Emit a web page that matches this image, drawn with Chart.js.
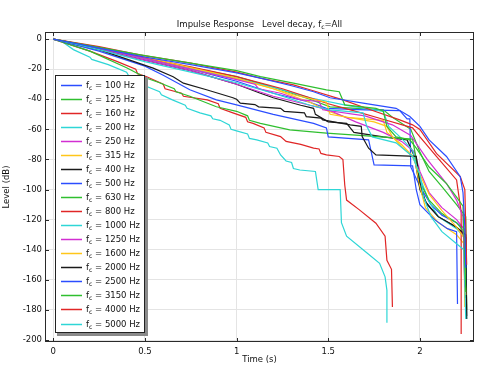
<!DOCTYPE html>
<html>
<head>
<meta charset="utf-8">
<script src="https://cdn.jsdelivr.net/npm/chart.js@4.4.0/dist/chart.umd.min.js"></script>
<style>
html, body { margin: 0; padding: 0; background: #fff; }
</style>
</head>
<body>
<canvas id="c" width="479" height="366"></canvas>
<script>
// band centre frequencies and line colours (COMSOL colour cycle)
var freqs = [100, 125, 160, 200, 250, 315, 400, 500, 630, 800, 1000, 1250, 1600, 2000, 2500, 3150, 4000, 5000];
var cycle = ['#2b4dff', '#2fbf2f', '#e02626', '#2ed6d6', '#d22ed2', '#ffc61a', '#1a1a1a'];

var xTicks = [0, 0.5, 1, 1.5, 2];
var yTicks = [-200, -180, -160, -140, -120, -100, -80, -60, -40, -20, 0];

// level decay curves, [time (s), level (dB)]
var f100 = [[0,0],[0.25,-6],[0.5,-12],[0.75,-17],[1.0,-22.5],[1.13,-26],[1.3,-31],[1.42,-35],[1.51,-39],[1.69,-42.6],[1.87,-46],[1.945,-51.5],[2.0,-58],[2.05,-67],[2.145,-78],[2.22,-91.4],[2.235,-102],[2.245,-125],[2.25,-152]];
var f125 = [[0,0],[0.25,-5.5],[0.5,-11],[0.75,-16],[1.0,-21],[1.13,-24.9],[1.31,-29.3],[1.49,-33.7],[1.56,-35],[1.59,-43.7],[1.76,-46],[1.8,-48],[1.82,-58],[1.87,-65],[1.945,-67],[1.98,-72.5],[2.05,-85],[2.145,-96],[2.2,-105],[2.235,-111],[2.25,-168]];
var f160 = [[0,0],[0.25,-5],[0.47,-10.5],[0.75,-16],[1.0,-22],[1.13,-26],[1.31,-30.4],[1.4,-33.7],[1.58,-40.4],[1.73,-47],[1.89,-53.7],[1.96,-57],[2.0,-60],[2.09,-76],[2.22,-91.4],[2.245,-100],[2.255,-150]];
var f200 = [[0,0],[0.25,-7],[0.5,-15],[0.75,-22],[1.0,-29],[1.2,-36],[1.4,-44],[1.51,-47],[1.69,-49],[1.71,-58],[1.74,-65],[1.87,-69],[1.96,-78],[2.0,-90],[2.02,-105],[2.06,-118],[2.12,-128],[2.2,-136],[2.24,-140],[2.25,-186]];
var f250 = [[0,0],[0.25,-6],[0.5,-13],[0.75,-20],[1.0,-27],[1.1,-30],[1.12,-33],[1.24,-36],[1.35,-40.4],[1.45,-41.5],[1.47,-47],[1.7,-51],[1.85,-57],[1.95,-64],[2.04,-80],[2.145,-96],[2.2,-107],[2.235,-118],[2.245,-165]];
var f315 = [[0,0],[0.25,-5.5],[0.5,-12],[0.75,-19],[1.0,-26],[1.2,-33],[1.31,-37],[1.49,-42],[1.51,-50],[1.75,-55],[1.82,-58],[1.85,-65],[1.9,-71.4],[1.96,-78],[2.0,-90],[2.05,-103],[2.12,-114],[2.2,-125],[2.24,-132],[2.25,-170]];
var f400 = [[0,0],[0.25,-7],[0.545,-19.3],[0.654,-25],[0.71,-29.3],[0.836,-33.7],[0.98,-39],[1.0,-40],[1.02,-42.6],[1.1,-43.5],[1.12,-45],[1.24,-46],[1.26,-48],[1.37,-49],[1.38,-51.5],[1.46,-52.5],[1.47,-53.7],[1.62,-57],[1.68,-58],[1.685,-64.8],[1.72,-72.5],[1.76,-77],[1.98,-78],[2.0,-95],[2.03,-108],[2.1,-118],[2.2,-125],[2.25,-130],[2.255,-186]];
var f500 = [[0,0],[0.25,-8],[0.5,-18],[0.6,-24],[0.745,-33.7],[0.89,-40.4],[1.0,-43.7],[1.2,-50],[1.42,-56],[1.49,-59],[1.5,-65],[1.72,-67],[1.75,-83.6],[1.96,-84.3],[1.98,-100],[2.0,-110],[2.08,-120],[2.15,-126],[2.2,-128],[2.205,-176]];
var f630 = [[0,0],[0.2,-8],[0.4,-19],[0.51,-26],[0.58,-29],[0.66,-33],[0.67,-35],[0.745,-38],[0.89,-45],[1.0,-48],[1.06,-51],[1.07,-54],[1.13,-56],[1.29,-60.3],[1.49,-62.5],[1.67,-64],[1.96,-66.5],[1.98,-80],[2.0,-95],[2.05,-107],[2.12,-116],[2.2,-122],[2.24,-128],[2.25,-172]];
var f800 = [[0,0],[0.25,-6],[0.5,-12.5],[0.75,-18.5],[1.0,-25],[1.25,-33],[1.5,-43],[1.65,-48],[1.78,-52.6],[1.96,-59],[2.0,-65],[2.09,-78],[2.2,-93.6],[2.225,-115],[2.225,-196]];
var f1000 = [[0,0],[0.25,-6],[0.5,-13],[0.75,-20],[1.0,-26],[1.2,-32],[1.4,-39],[1.6,-44],[1.8,-48],[1.83,-58],[1.9,-66],[1.96,-74],[2.0,-92],[2.05,-108],[2.1,-118],[2.2,-126],[2.25,-133],[2.255,-186]];
var f1250 = [[0,0],[0.25,-7],[0.5,-14],[0.75,-21],[1.0,-30],[1.2,-38],[1.4,-44],[1.5,-47],[1.65,-55],[1.8,-62],[1.9,-68],[1.97,-75],[2.0,-88],[2.05,-102],[2.12,-112],[2.2,-120],[2.24,-126],[2.245,-160]];
var f1600 = [[0,0],[0.25,-6],[0.5,-13],[0.75,-20],[1.0,-26.5],[1.2,-33],[1.4,-42],[1.5,-48],[1.6,-52],[1.8,-54],[1.82,-62],[1.9,-70],[1.97,-79],[2.0,-98],[2.03,-112],[2.1,-122],[2.2,-130],[2.24,-136],[2.245,-178]];
var f2000 = [[0,0],[0.25,-6.5],[0.5,-14],[0.75,-21],[1.0,-30],[1.13,-36],[1.2,-39],[1.35,-44],[1.42,-46],[1.43,-50],[1.5,-55],[1.6,-56],[1.64,-62],[1.8,-65],[1.93,-67],[1.97,-78],[2.0,-100],[2.04,-110],[2.1,-118],[2.2,-125],[2.25,-132],[2.255,-184]];
var f2500 = [[0,0],[0.25,-6],[0.5,-13],[0.75,-20],[1.0,-28],[1.2,-36],[1.4,-42],[1.49,-46],[1.7,-47],[1.89,-47.5],[1.93,-53],[1.945,-53],[1.95,-85],[2.0,-98],[2.06,-110],[2.12,-117],[2.2,-122],[2.24,-126],[2.245,-172]];
var f3150 = [[0,0],[0.25,-6],[0.5,-13],[0.75,-19],[1.0,-25],[1.2,-32],[1.4,-40],[1.51,-45],[1.8,-47],[1.85,-52],[1.95,-60],[2.0,-75],[2.05,-88],[2.12,-98],[2.2,-110],[2.25,-118],[2.255,-180]];
var f4000 = [[0,0],[0.2,-8],[0.35,-15],[0.45,-20],[0.46,-23],[0.51,-25],[0.6,-30],[0.61,-33],[0.7,-36],[0.71,-38],[0.84,-40.4],[0.9,-43],[0.91,-46],[0.98,-49],[1.05,-52],[1.06,-55],[1.09,-56],[1.15,-59],[1.16,-62],[1.24,-64.8],[1.27,-68],[1.35,-70],[1.42,-72.5],[1.45,-73],[1.46,-76],[1.49,-77],[1.56,-78],[1.58,-80],[1.59,-97],[1.6,-107],[1.67,-113.5],[1.76,-122.4],[1.81,-131],[1.82,-147],[1.845,-153],[1.85,-178]];
var f5000 = [[0,0],[0.04,-1],[0.11,-7],[0.2,-12],[0.21,-13.5],[0.3,-17],[0.4,-22],[0.41,-24],[0.47,-27],[0.51,-31.5],[0.58,-35],[0.59,-37],[0.65,-40.4],[0.72,-44],[0.73,-46],[0.8,-49],[0.86,-51],[0.87,-53],[0.91,-54],[0.96,-57],[0.97,-60],[1.0,-61],[1.06,-63],[1.07,-66],[1.11,-67],[1.17,-69],[1.18,-71.4],[1.22,-72.5],[1.24,-77],[1.27,-81],[1.3,-82],[1.31,-86],[1.345,-87],[1.43,-88],[1.445,-100],[1.565,-100],[1.572,-122],[1.6,-131],[1.71,-142],[1.78,-149],[1.81,-158],[1.82,-167],[1.82,-188.5]];

var curves = [f100, f125, f160, f200, f250, f315, f400, f500, f630, f800, f1000, f1250, f1600, f2000, f2500, f3150, f4000, f5000];

var FONT = '"DejaVu Sans", sans-serif';
var fnt = { family: FONT, size: 8.5 };

// draws f with a subscript c, returns x after the text
function drawFc(ctx, x, y, rest, size) {
    ctx.font = size + 'px ' + FONT;
    ctx.fillText('f', x, y);
    x += ctx.measureText('f').width;
    ctx.font = (size * 0.72) + 'px ' + FONT;
    ctx.fillText('c', x, y + 2);
    x += ctx.measureText('c').width;
    ctx.font = size + 'px ' + FONT;
    ctx.fillText(rest, x, y);
    return x + ctx.measureText(rest).width;
}

var framePlugin = {
    id: 'frame',
    afterDatasetsDraw: function(chart) {
        var ctx = chart.ctx, a = chart.chartArea;
        var xs = chart.scales.x, ys = chart.scales.y;
        ctx.save();
        ctx.strokeStyle = '#2a2a2a';
        ctx.lineWidth = 1;
        ctx.strokeRect(a.left + 0.5, a.top + 0.5, a.right - a.left - 1, a.bottom - a.top - 1);
        ctx.beginPath();
        xTicks.forEach(function(v) {
            var px = Math.round(xs.getPixelForValue(v)) + 0.5;
            ctx.moveTo(px, a.bottom); ctx.lineTo(px, a.bottom - 4);
            ctx.moveTo(px, a.top); ctx.lineTo(px, a.top + 4);
        });
        yTicks.forEach(function(v) {
            var py = Math.round(ys.getPixelForValue(v)) + 0.5;
            ctx.moveTo(a.left, py); ctx.lineTo(a.left + 4, py);
            ctx.moveTo(a.right, py); ctx.lineTo(a.right - 4, py);
        });
        ctx.stroke();

        // legend box inside the plot
        var bx = 55, by = 75, bw = 90, bh = 258;
        ctx.fillStyle = '#8a8a8a';
        ctx.fillRect(bx + 2, by + 2, bw + 1, bh + 1);
        ctx.fillStyle = '#fff';
        ctx.fillRect(bx, by, bw, bh);
        ctx.strokeStyle = '#222';
        ctx.strokeRect(bx + 0.5, by + 0.5, bw - 1, bh - 1);
        ctx.textBaseline = 'alphabetic';
        ctx.textAlign = 'left';
        chart.data.datasets.forEach(function(ds, i) {
            var ly = 84.5 + i * 14.06;
            ctx.strokeStyle = ds.borderColor;
            ctx.lineWidth = 1.5;
            ctx.beginPath();
            ctx.moveTo(61, Math.round(ly) + 0.5);
            ctx.lineTo(82, Math.round(ly) + 0.5);
            ctx.stroke();
            ctx.fillStyle = '#111';
            drawFc(ctx, 86, ly + 3, ' = ' + freqs[i] + ' Hz', 8.5);
        });

        // title with subscript
        ctx.fillStyle = '#111';
        var part1 = 'Impulse Response   Level decay, ';
        ctx.font = '8.5px ' + FONT;
        var w = ctx.measureText(part1 + 'f=All').width;
        ctx.font = '6.1px ' + FONT;
        w += ctx.measureText('c').width;
        var tx = (a.left + a.right) / 2 - w / 2;
        ctx.font = '8.5px ' + FONT;
        ctx.fillText(part1, tx, 26.5);
        tx += ctx.measureText(part1).width;
        drawFc(ctx, tx, 26.5, '=All', 8.5);
        ctx.restore();
    }
};

new Chart(document.getElementById('c'), {
    type: 'line',
    data: {
        datasets: curves.map(function(c, i) {
            return {
                label: 'fc = ' + freqs[i] + ' Hz',
                data: c.map(function(p) { return { x: p[0], y: p[1] }; }),
                borderColor: cycle[i % cycle.length],
                borderWidth: 1.2,
                pointRadius: 0,
                tension: 0,
                fill: false
            };
        })
    },
    options: {
        responsive: false,
        animation: false,
        layout: { padding: { top: 32, right: 5, left: 0, bottom: 0 } },
        plugins: { legend: { display: false }, tooltip: { enabled: false }, title: { display: false } },
        scales: {
            x: {
                type: 'linear', min: -0.045, max: 2.295,
                afterBuildTicks: function(s) { s.ticks = xTicks.map(function(v) { return { value: v }; }); },
                afterFit: function(s) { s.height = 24; },
                ticks: { font: fnt, color: '#111', padding: 5, maxRotation: 0, autoSkip: false,
                    callback: function(v) { return String(v); } },
                grid: { color: '#e4e4e4', drawTicks: false },
                border: { display: false },
                title: { display: true, text: 'Time (s)', font: fnt, color: '#111', padding: { top: 0, bottom: 1 } }
            },
            y: {
                type: 'linear', min: -201.3, max: 4.7,
                afterBuildTicks: function(s) { s.ticks = yTicks.map(function(v) { return { value: v }; }); },
                afterFit: function(s) { s.width = 45; },
                ticks: { font: fnt, color: '#111', padding: 3, autoSkip: false,
                    callback: function(v) { return String(v); } },
                grid: { color: '#e4e4e4', drawTicks: false },
                border: { display: false },
                title: { display: true, text: 'Level (dB)', font: fnt, color: '#111', padding: { top: 2, bottom: 0 } }
            }
        }
    },
    plugins: [framePlugin]
});
</script>
</body>
</html>
